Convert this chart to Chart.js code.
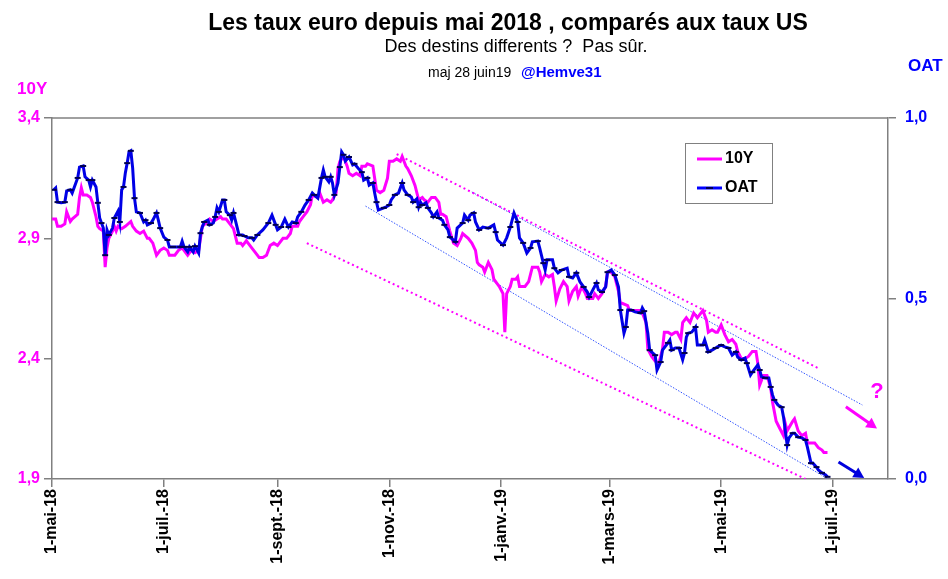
<!DOCTYPE html>
<html>
<head>
<meta charset="utf-8">
<script src="https://cdn.jsdelivr.net/npm/chart.js@4/dist/chart.umd.min.js"></script>
<style>
  html, body { margin: 0; padding: 0; background: #fff; }
  #wrap { width: 948px; height: 579px; }
</style>
</head>
<body>
<div id="wrap"><canvas id="myChart" width="948" height="579"></canvas></div>
<script>
// x values are days since 1 May 2018
const tickDays = [0, 61, 123, 184, 245, 304, 365, 426];
const tickLabels = ["1-mai-18", "1-juil.-18", "1-sept.-18", "1-nov.-18", "1-janv.-19", "1-mars-19", "1-mai-19", "1-juil.-19"];
const leftTicks = [1.9, 2.4, 2.9, 3.4];
const rightTicks = [0, 0.5, 1.0];

const oatDays = [1,2,3,5,7,8,10,11,14,15,17,18,20,21,22,24,25,26,27,28,29,30,31,33,34,36,37,38,39,40,41,42,43,44,45,46,48,50,51,52,54,55,57,58,59,61,63,64,66,68,70,71,72,74,75,77,78,80,81,82,83,85,86,88,89,90,91,93,94,95,97,98,99,100,102,104,105,107,109,110,112,115,118,120,122,123,125,127,129,131,133,134,136,138,140,142,143,145,147,148,149,151,152,153,154,156,157,158,159,160,162,164,165,167,169,170,172,173,175,176,177,178,181,182,184,185,187,189,191,192,194,196,197,199,200,201,202,204,205,207,208,210,211,213,214,216,217,219,220,221,224,225,227,228,230,231,233,235,238,241,242,243,246,248,250,252,254,255,257,259,261,262,265,266,268,269,270,273,274,276,278,281,282,284,286,288,290,292,293,295,297,298,300,302,303,305,307,309,310,312,313,314,316,318,321,322,323,325,326,327,329,330,332,333,336,337,338,340,342,344,345,346,347,349,351,352,355,356,358,360,362,363,365,367,369,371,373,374,376,378,379,381,382,385,386,387,389,391,392,393,394,396,398,399,401,402,404,405,407,409,411,412,414,415,417,418,420,422,423];
const oatValues = [0.801,0.806,0.767,0.765,0.767,0.798,0.801,0.792,0.834,0.864,0.867,0.837,0.828,0.809,0.828,0.809,0.765,0.723,0.709,0.695,0.620,0.690,0.676,0.695,0.723,0.742,0.712,0.801,0.809,0.848,0.875,0.906,0.909,0.861,0.778,0.740,0.737,0.712,0.717,0.704,0.709,0.717,0.737,0.717,0.695,0.670,0.662,0.643,0.643,0.643,0.643,0.659,0.643,0.629,0.643,0.629,0.645,0.626,0.681,0.698,0.712,0.717,0.704,0.709,0.726,0.751,0.740,0.773,0.773,0.740,0.731,0.717,0.737,0.717,0.676,0.676,0.673,0.668,0.668,0.662,0.676,0.690,0.709,0.731,0.704,0.690,0.698,0.720,0.698,0.712,0.709,0.726,0.740,0.759,0.773,0.792,0.787,0.778,0.834,0.856,0.837,0.823,0.837,0.820,0.787,0.820,0.864,0.906,0.898,0.881,0.892,0.870,0.873,0.861,0.850,0.828,0.834,0.814,0.820,0.792,0.767,0.745,0.751,0.753,0.759,0.773,0.787,0.792,0.820,0.801,0.787,0.781,0.767,0.776,0.753,0.767,0.759,0.765,0.751,0.737,0.726,0.740,0.723,0.717,0.704,0.690,0.670,0.662,0.657,0.695,0.709,0.731,0.717,0.731,0.737,0.712,0.690,0.698,0.695,0.704,0.684,0.662,0.648,0.668,0.698,0.737,0.712,0.668,0.654,0.626,0.640,0.657,0.659,0.640,0.598,0.579,0.607,0.607,0.584,0.571,0.579,0.584,0.560,0.557,0.571,0.546,0.532,0.518,0.504,0.524,0.543,0.524,0.518,0.532,0.573,0.579,0.565,0.532,0.468,0.404,0.421,0.468,0.468,0.463,0.460,0.474,0.465,0.404,0.357,0.352,0.343,0.302,0.324,0.357,0.377,0.385,0.357,0.363,0.363,0.330,0.349,0.393,0.404,0.407,0.421,0.371,0.371,0.385,0.352,0.357,0.363,0.366,0.371,0.366,0.363,0.343,0.352,0.338,0.330,0.335,0.321,0.288,0.296,0.316,0.302,0.283,0.280,0.280,0.255,0.233,0.219,0.205,0.199,0.172,0.094,0.114,0.127,0.127,0.116,0.114,0.108,0.089,0.044,0.044,0.033,0.025,0.017,0.011,0.006];

const tenDays = [0,2,3,5,7,8,10,11,14,15,16,17,19,21,22,24,25,26,28,29,30,31,33,34,35,36,38,40,43,44,46,48,50,52,53,55,57,59,61,63,64,67,69,71,73,74,76,78,80,81,82,85,86,88,90,92,93,95,97,99,101,103,104,106,108,110,112,113,115,117,119,121,123,124,126,128,130,131,134,135,137,139,141,142,145,146,148,150,152,153,155,156,157,159,161,162,164,166,168,169,171,172,175,176,177,179,181,183,184,186,188,190,191,193,194,196,198,200,202,203,205,207,209,211,212,213,215,217,219,221,223,224,227,229,231,232,233,235,236,237,238,240,241,243,244,246,247,248,250,251,253,254,255,258,260,261,262,265,266,267,269,271,273,274,275,277,279,281,282,284,286,287,289,291,292,295,296,298,300,302,303,305,307,309,310,311,314,315,318,321,322,324,325,327,329,331,333,334,336,338,340,341,343,344,346,348,350,352,353,355,357,358,360,362,363,365,367,369,371,373,374,376,378,380,382,384,385,386,388,390,392,393,395,397,399,400,401,404,405,407,409,411,412,415,416,418,420,421,423];
const tenValues = [2.98,2.98,2.95,2.95,2.96,3.01,2.97,2.98,3.00,3.07,3.11,3.08,3.08,3.07,3.05,2.99,2.95,2.94,2.93,2.78,2.86,2.90,2.93,2.95,2.93,2.95,2.94,2.95,2.97,2.95,2.93,2.92,2.93,2.90,2.90,2.88,2.83,2.85,2.86,2.85,2.83,2.83,2.85,2.86,2.84,2.83,2.85,2.84,2.85,2.90,2.95,2.97,2.98,2.97,2.98,2.99,2.98,2.98,2.96,2.94,2.88,2.88,2.87,2.89,2.87,2.85,2.83,2.82,2.82,2.83,2.87,2.88,2.87,2.88,2.90,2.90,2.92,2.95,2.95,2.97,2.99,3.01,3.04,3.08,3.07,3.09,3.05,3.06,3.05,3.06,3.09,3.19,3.22,3.24,3.20,3.17,3.16,3.17,3.16,3.20,3.20,3.21,3.20,3.15,3.10,3.09,3.10,3.15,3.22,3.22,3.23,3.22,3.24,3.20,3.19,3.16,3.12,3.06,3.07,3.06,3.05,3.07,3.07,3.05,3.00,3.00,2.99,2.93,2.88,2.87,2.90,2.92,2.90,2.88,2.85,2.80,2.79,2.78,2.76,2.78,2.80,2.77,2.73,2.71,2.70,2.67,2.51,2.67,2.70,2.73,2.73,2.74,2.70,2.70,2.72,2.75,2.78,2.78,2.76,2.72,2.75,2.74,2.75,2.70,2.64,2.69,2.72,2.70,2.64,2.68,2.70,2.66,2.70,2.67,2.65,2.65,2.67,2.65,2.67,2.70,2.76,2.76,2.74,2.68,2.63,2.63,2.62,2.60,2.60,2.60,2.59,2.55,2.44,2.41,2.39,2.38,2.44,2.51,2.51,2.50,2.51,2.51,2.48,2.55,2.57,2.55,2.59,2.57,2.58,2.60,2.56,2.51,2.52,2.51,2.51,2.54,2.50,2.47,2.48,2.46,2.43,2.40,2.40,2.41,2.43,2.43,2.38,2.29,2.33,2.33,2.28,2.22,2.14,2.11,2.08,2.13,2.10,2.14,2.15,2.10,2.08,2.09,2.05,2.05,2.05,2.03,2.02,2.01,2.01];

// dotted channels (two end points each)
const tenUpperDays = [188, 418];
const tenUpperValues = [3.25, 2.36];
const tenLowerDays = [139, 411];
const tenLowerValues = [2.88, 1.90];
const oatUpperDays = [229, 442];
const oatUpperValues = [0.795, 0.205];
const oatLowerDays = [171, 426];
const oatLowerValues = [0.756, -0.008];

// arrows and "?"
const pinkArrowDays = [433, 450];
const pinkArrowValues = [2.20, 2.11];
const blueArrowDays = [429, 443];
const blueArrowValues = [0.047, 0.003];
const questionDay = 450;
const questionValue = 2.26;

const magenta = "#FF00FF";
const blue = "#0000FF";
const grey = "#808080";
const font = "'Liberation Sans', Arial, sans-serif";

function toPoints(xs, ys) {
  return xs.map(function (x, i) { return { x: x, y: ys[i] }; });
}
function comma(v) {
  return v.toFixed(1).replace(".", ",");
}

function arrow(ctx, x1, y1, x2, y2, color) {
  const ang = Math.atan2(y2 - y1, x2 - x1);
  const head = 12;
  ctx.save();
  ctx.strokeStyle = color;
  ctx.fillStyle = color;
  ctx.lineWidth = 3;
  ctx.beginPath();
  ctx.moveTo(x1, y1);
  ctx.lineTo(x2 - Math.cos(ang) * head * 0.7, y2 - Math.sin(ang) * head * 0.7);
  ctx.stroke();
  ctx.beginPath();
  ctx.moveTo(x2, y2);
  ctx.lineTo(x2 - head * Math.cos(ang - 0.5), y2 - head * Math.sin(ang - 0.5));
  ctx.lineTo(x2 - head * Math.cos(ang + 0.5), y2 - head * Math.sin(ang + 0.5));
  ctx.closePath();
  ctx.fill();
  ctx.restore();
}

const decorations = {
  id: "decorations",
  afterDraw(chart) {
    const ctx = chart.ctx;
    const a = chart.chartArea;
    const x = chart.scales.x, y10 = chart.scales.y10, yo = chart.scales.yOat;

    // top frame line
    ctx.save();
    ctx.strokeStyle = grey;
    ctx.lineWidth = 1.5;
    ctx.beginPath();
    ctx.moveTo(a.left, a.top);
    ctx.lineTo(a.right, a.top);
    ctx.stroke();

    // titles
    ctx.textAlign = "center";
    ctx.textBaseline = "alphabetic";
    ctx.fillStyle = "#000";
    ctx.font = "bold 23px " + font;
    ctx.fillText("Les taux euro depuis mai 2018 , comparés aux taux US", 508, 30);
    ctx.font = "18px " + font;
    ctx.fillText("Des destins differents ?  Pas sûr.", 516, 52);
    ctx.textAlign = "left";
    ctx.font = "14px " + font;
    ctx.fillText("maj 28 juin19", 428, 77);
    ctx.font = "bold 15px " + font;
    ctx.fillStyle = blue;
    ctx.fillText("@Hemve31", 521, 77);

    // axis titles
    ctx.font = "bold 17px " + font;
    ctx.fillStyle = magenta;
    ctx.fillText("10Y", 17, 94);
    ctx.fillStyle = blue;
    ctx.fillText("OAT", 908, 71);

    // legend
    ctx.strokeStyle = grey;
    ctx.lineWidth = 1;
    ctx.strokeRect(685.5, 143.5, 87, 60);
    ctx.lineWidth = 3;
    ctx.strokeStyle = magenta;
    ctx.beginPath(); ctx.moveTo(697, 159); ctx.lineTo(722, 159); ctx.stroke();
    ctx.strokeStyle = blue;
    ctx.beginPath(); ctx.moveTo(697, 188); ctx.lineTo(722, 188); ctx.stroke();
    ctx.strokeStyle = "#000050";
    ctx.lineWidth = 2;
    ctx.beginPath(); ctx.moveTo(706, 188); ctx.lineTo(713, 188); ctx.stroke();
    ctx.fillStyle = "#000";
    ctx.font = "bold 16px " + font;
    ctx.textBaseline = "middle";
    ctx.fillText("10Y", 725, 159);
    ctx.fillText("OAT", 725, 188);
    ctx.restore();

    // arrows and question mark, placed on the scales
    arrow(ctx, x.getPixelForValue(pinkArrowDays[0]), y10.getPixelForValue(pinkArrowValues[0]),
      x.getPixelForValue(pinkArrowDays[1]), y10.getPixelForValue(pinkArrowValues[1]), magenta);
    arrow(ctx, x.getPixelForValue(blueArrowDays[0]), yo.getPixelForValue(blueArrowValues[0]),
      x.getPixelForValue(blueArrowDays[1]), yo.getPixelForValue(blueArrowValues[1]), "#0000DD");
    ctx.save();
    ctx.fillStyle = magenta;
    ctx.font = "bold 22px " + font;
    ctx.textAlign = "center";
    ctx.textBaseline = "middle";
    ctx.fillText("?", x.getPixelForValue(questionDay), y10.getPixelForValue(questionValue));
    ctx.restore();
  }
};

const ctx = document.getElementById("myChart");

new Chart(ctx, {
  type: "line",
  data: {
    datasets: [
      {
        label: "OAT",
        data: toPoints(oatDays, oatValues),
        yAxisID: "yOat",
        borderColor: "#0000E6",
        borderWidth: 3,
        pointStyle: "line",
        pointRadius: oatDays.map(function (d, i) { return i % 2 === 0 ? 3 : 0; }),
        pointBorderColor: "#000050",
        pointBorderWidth: 2,
        tension: 0,
        order: 0
      },
      {
        label: "10Y",
        data: toPoints(tenDays, tenValues),
        yAxisID: "y10",
        borderColor: magenta,
        borderWidth: 3,
        pointRadius: 0,
        tension: 0,
        order: 1
      },
      {
        data: toPoints(tenUpperDays, tenUpperValues),
        yAxisID: "y10",
        borderColor: magenta,
        borderWidth: 2,
        borderDash: [2, 3],
        pointRadius: 0,
        order: 2
      },
      {
        data: toPoints(tenLowerDays, tenLowerValues),
        yAxisID: "y10",
        borderColor: magenta,
        borderWidth: 2,
        borderDash: [2, 3],
        pointRadius: 0,
        order: 2
      },
      {
        data: toPoints(oatUpperDays, oatUpperValues),
        yAxisID: "yOat",
        borderColor: "#3355FF",
        borderWidth: 1,
        borderDash: [1.5, 1.5],
        pointRadius: 0,
        order: 2
      },
      {
        data: toPoints(oatLowerDays, oatLowerValues),
        yAxisID: "yOat",
        borderColor: "#3355FF",
        borderWidth: 1,
        borderDash: [1.5, 1.5],
        pointRadius: 0,
        order: 2
      }
    ]
  },
  options: {
    responsive: false,
    animation: false,
    layout: { padding: { top: 118, left: 0, right: 0, bottom: 0 } },
    plugins: {
      legend: { display: false },
      tooltip: { enabled: false },
      title: { display: false }
    },
    scales: {
      x: {
        type: "linear",
        position: "bottom",
        min: 0,
        max: 456,
        afterBuildTicks: function (s) { s.ticks = tickDays.map(function (v) { return { value: v }; }); },
        afterFit: function (s) { s.height = 100; },
        grid: { drawOnChartArea: false, color: grey, tickLength: 8, lineWidth: 1.5 },
        border: { color: grey, width: 1.5 },
        ticks: {
          autoSkip: false,
          minRotation: 90,
          maxRotation: 90,
          padding: 2,
          color: "#000",
          font: { family: font, size: 16, weight: "bold" },
          callback: function (v) { const i = tickDays.indexOf(v); return i >= 0 ? tickLabels[i] : ""; }
        }
      },
      y10: {
        type: "linear",
        position: "left",
        min: 1.9,
        max: 3.4,
        afterBuildTicks: function (s) { s.ticks = leftTicks.map(function (v) { return { value: v }; }); },
        afterFit: function (s) { s.width = 52; },
        grid: { drawOnChartArea: false, color: grey, tickLength: 8, lineWidth: 1.5 },
        border: { color: grey, width: 1.5 },
        ticks: {
          padding: 4,
          color: magenta,
          font: { family: font, size: 16, weight: "bold" },
          callback: function (v) { return comma(v); }
        }
      },
      yOat: {
        type: "linear",
        position: "right",
        min: 0,
        max: 1,
        afterBuildTicks: function (s) { s.ticks = rightTicks.map(function (v) { return { value: v }; }); },
        afterFit: function (s) { s.width = 60; },
        grid: { drawOnChartArea: false, color: grey, tickLength: 8, lineWidth: 1.5 },
        border: { color: grey, width: 1.5 },
        ticks: {
          padding: 9,
          color: blue,
          font: { family: font, size: 16, weight: "bold" },
          callback: function (v) { return comma(v); }
        }
      }
    }
  },
  plugins: [decorations]
});
</script>
</body>
</html>
